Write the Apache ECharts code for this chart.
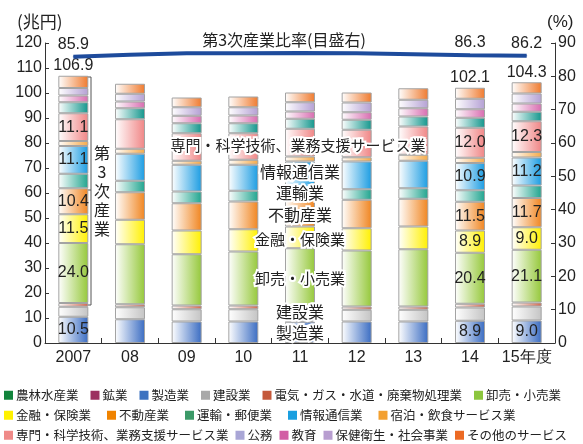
<!doctype html>
<html>
<head>
<meta charset="UTF-8">
<title>第3次産業</title>
<script src="https://cdn.jsdelivr.net/npm/echarts@6/dist/echarts.min.js"></script>
<style>
  html, body { margin: 0; padding: 0; background: #fff; }
  #main { width: 583px; height: 444px; }
</style>
</head>
<body>
<div id="main"></div>
<script>
// 年度
var categories = ['2007', '08', '09', '10', '11', '12', '13', '14', '15年度'];

// 産業別（兆円）
var agri          = [0, 0, 0, 0, 0, 0, 0, 0, 0];
var mining        = [0, 0, 0, 0, 0, 0, 0, 0, 0];
var manufacturing = [10.5, 9.5, 8.6, 8.6, 8.5, 8.6, 8.6, 8.9, 9.0];
var construction  = [4.0, 4.8, 4.9, 4.9, 4.8, 4.7, 4.7, 5.3, 5.6];
var utilities     = [1.5, 1.2, 1.5, 1.5, 1.5, 1.3, 1.3, 1.5, 1.6];
var trade         = [24.0, 24.0, 20.5, 21.6, 23.1, 22.4, 22.9, 20.4, 21.1];
var finance       = [11.5, 9.8, 9.5, 8.9, 8.7, 8.9, 9.1, 8.9, 9.0];
var realEstate    = [10.4, 11.0, 10.9, 11.1, 11.0, 11.4, 11.1, 11.5, 11.7];
var transport     = [5.8, 4.6, 4.7, 4.3, 4.1, 4.2, 4.2, 4.6, 5.0];
var infoComm      = [11.1, 10.8, 10.7, 10.4, 10.9, 11.1, 11.0, 10.9, 11.2];
var hospitality   = [2.0, 2.0, 1.6, 2.0, 2.0, 1.7, 2.4, 2.1, 2.2];
var professional  = [11.1, 11.8, 11.0, 10.6, 11.1, 11.0, 11.3, 12.0, 12.3];
var government    = [4.4, 4.4, 4.0, 4.0, 4.0, 4.0, 4.0, 4.0, 3.8];
var education     = [2.7, 2.7, 3.0, 3.1, 2.9, 3.0, 3.3, 3.4, 3.3];
var health        = [3.0, 3.1, 3.4, 3.3, 3.7, 3.9, 3.4, 4.2, 4.0];
var otherServices = [4.9, 4.0, 3.9, 4.3, 3.9, 4.0, 4.6, 4.4, 4.5];

// 合計ラベル・第3次産業比率（%）
var totalLabels = ['106.9', '', '', '', '', '', '', '102.1', '104.3'];
var ratio       = [85.9, 86.5, 86.9, 86.9, 87.0, 86.9, 86.6, 86.3, 86.2];
var ratioLabels = ['85.9', '', '', '', '', '', '', '86.3', '86.2'];
var labelIdx = [0, 7, 8];

var numFont = '"Liberation Sans", Arial, sans-serif';
var jpFont = '"Noto Sans CJK JP", sans-serif';

// name, data, bar colour, legend colour, value label
var stack = [
    ['農林水産業', agri, '#12843c', '#12843c', false],
    ['鉱業', mining, '#9c2f60', '#9c2f60', false],
    ['製造業', manufacturing, '#3a6cc2', '#3d72c0', true],
    ['建設業', construction, '#c4c4c4', '#a8a8a8', false],
    ['電気・ガス・水道・廃棄物処理業', utilities, '#d26a50', '#c4583a', false],
    ['卸売・小売業', trade, '#95c83a', '#8cc63e', true],
    ['金融・保険業', finance, '#fff000', '#fff100', true],
    ['不動産業', realEstate, '#f08520', '#f08300', true],
    ['運輸・郵便業', transport, '#1fa48e', '#3c9a68', false],
    ['情報通信業', infoComm, '#1b9ce2', '#1a9fe0', true],
    ['宿泊・飲食サービス業', hospitality, '#f5a948', '#f3a030', false],
    ['専門・科学技術、業務支援サービス業', professional, '#f08585', '#ef8a88', true],
    ['公務', government, '#12968c', '#a9a6d6', false],
    ['教育', education, '#d86cb0', '#d25fa4', false],
    ['保健衛生・社会事業', health, '#b4a0d4', '#b89ed0', false],
    ['その他のサービス', otherServices, '#ef7a2e', '#ec6a24', false]
];

var series = [];
var legendColor = {};
stack.forEach(function (s, k) {
    legendColor[s[0]] = s[3];
    var item = {
        name: s[0],
        type: 'bar',
        stack: 'total',
        barWidth: 30,
        data: s[1],
        itemStyle: {
            color: new echarts.graphic.LinearGradient(0, 0, 1, 0, [
                {offset: 0, color: '#ffffff'},
                {offset: 1, color: s[2]}
            ]),
            borderColor: '#a3a3a3',
            borderWidth: s[1][0] === 0 ? 0 : 1
        },
        label: {show: false}
    };
    if (s[4]) {
        item.label = {
            show: true,
            position: 'inside',
            color: '#222',
            fontSize: 16,
            fontFamily: numFont,
            formatter: function (p) {
                return labelIdx.indexOf(p.dataIndex) >= 0 ? p.value.toFixed(1) : '';
            }
        };
    }
    if (k === stack.length - 1) {
        item.label = {
            show: true,
            position: 'top',
            distance: 2,
            color: '#222',
            fontSize: 16,
            fontFamily: numFont,
            formatter: function (p) { return totalLabels[p.dataIndex]; }
        };
    }
    series.push(item);
});

series.push({
    name: '第3次産業比率',
    type: 'line',
    yAxisIndex: 1,
    data: ratio,
    symbol: 'circle',
    symbolSize: 1,
    z: 5,
    itemStyle: {color: '#1e4b9c'},
    lineStyle: {color: '#1e4b9c', width: 4},
    label: {
        show: true,
        position: 'top',
        distance: 4,
        color: '#222',
        fontSize: 16,
        fontFamily: numFont,
        formatter: function (p) { return ratioLabels[p.dataIndex]; }
    }
});

function legendRow(names, top, gap) {
    return {
        top: top,
        left: 4,
        padding: 0,
        itemWidth: 9,
        itemHeight: 9,
        itemGap: gap,
        icon: 'rect',
        selectedMode: false,
        textStyle: {fontSize: 12.5, fontFamily: jpFont, color: '#222', padding: [0, 0, 0, -2]},
        data: names.map(function (n) {
            return {name: n, itemStyle: {color: legendColor[n], borderWidth: 0}};
        })
    };
}

var axisLine = {show: true, lineStyle: {color: '#333', width: 1}};

function annotation(text, x, y, size) {
    return {
        type: 'text', x: x, y: y, z: 100,
        style: {
            text: text, fill: '#222', font: (size || 16) + 'px ' + jpFont,
            align: 'center', verticalAlign: 'middle',
            stroke: '#fff', lineWidth: 4, strokeFirst: true
        }
    };
}

var option = {
    animation: false,
    grid: {left: 45, right: 28, top: 43, bottom: 101},
    legend: [
        legendRow(['農林水産業', '鉱業', '製造業', '建設業', '電気・ガス・水道・廃棄物処理業', '卸売・小売業'], 389, 12),
        legendRow(['金融・保険業', '不動産業', '運輸・郵便業', '情報通信業', '宿泊・飲食サービス業'], 409, 16),
        legendRow(['専門・科学技術、業務支援サービス業', '公務', '教育', '保健衛生・社会事業', 'その他のサービス'], 429, 7)
    ],
    xAxis: {
        type: 'category',
        data: categories,
        axisLine: axisLine,
        axisTick: {show: true, inside: true, length: 5, lineStyle: {color: '#333'}},
        axisLabel: {interval: 0, color: '#222', fontSize: 16, fontFamily: numFont, margin: 7}
    },
    yAxis: [
        {
            type: 'value', min: 0, max: 120, interval: 10,
            axisLine: axisLine,
            axisTick: {show: true, inside: true, length: 4, lineStyle: {color: '#333'}},
            axisLabel: {color: '#222', fontSize: 16, fontFamily: numFont, margin: 3},
            splitLine: {show: false}
        },
        {
            type: 'value', min: 0, max: 90, interval: 10,
            axisLine: axisLine,
            axisTick: {show: true, inside: true, length: 4, lineStyle: {color: '#333'}},
            axisLabel: {color: '#222', fontSize: 16, fontFamily: numFont, margin: 3},
            splitLine: {show: false}
        }
    ],
    graphic: [
        {type: 'text', x: 17, y: 22, style: {text: '(兆円)', fill: '#222', font: '17px ' + jpFont, verticalAlign: 'middle'}},
        {type: 'text', x: 547, y: 22, style: {text: '(%)', fill: '#222', font: '17px ' + numFont, verticalAlign: 'middle'}},
        {type: 'text', x: 284, y: 40, z: 100, style: {text: '第3次産業比率(目盛右)', fill: '#222', font: '16px ' + jpFont, align: 'center', verticalAlign: 'middle'}},
        {type: 'polyline', shape: {points: [[87, 77], [91, 77], [91, 305], [87, 305]]}, style: {stroke: '#555', lineWidth: 1, fill: null}},
        {type: 'polyline', shape: {points: [[88, 190], [91, 190]]}, style: {stroke: '#555', lineWidth: 1}},
        {type: 'text', x: 102, y: 191, style: {text: '第\n3\n次\n産\n業', fill: '#222', font: '16px ' + jpFont, align: 'center', verticalAlign: 'middle', lineHeight: 19}},
        annotation('専門・科学技術、業務支援サービス業', 298, 145, 15),
        annotation('情報通信業', 300, 172),
        annotation('運輸業', 300, 193),
        annotation('不動産業', 300, 215),
        annotation('金融・保険業', 300, 239, 15),
        annotation('卸売・小売業', 300, 278, 15),
        annotation('建設業', 300, 312),
        annotation('製造業', 300, 333)
    ],
    series: series
};

var myChart = echarts.init(document.getElementById('main'));
myChart.setOption(option);
</script>
</body>
</html>
